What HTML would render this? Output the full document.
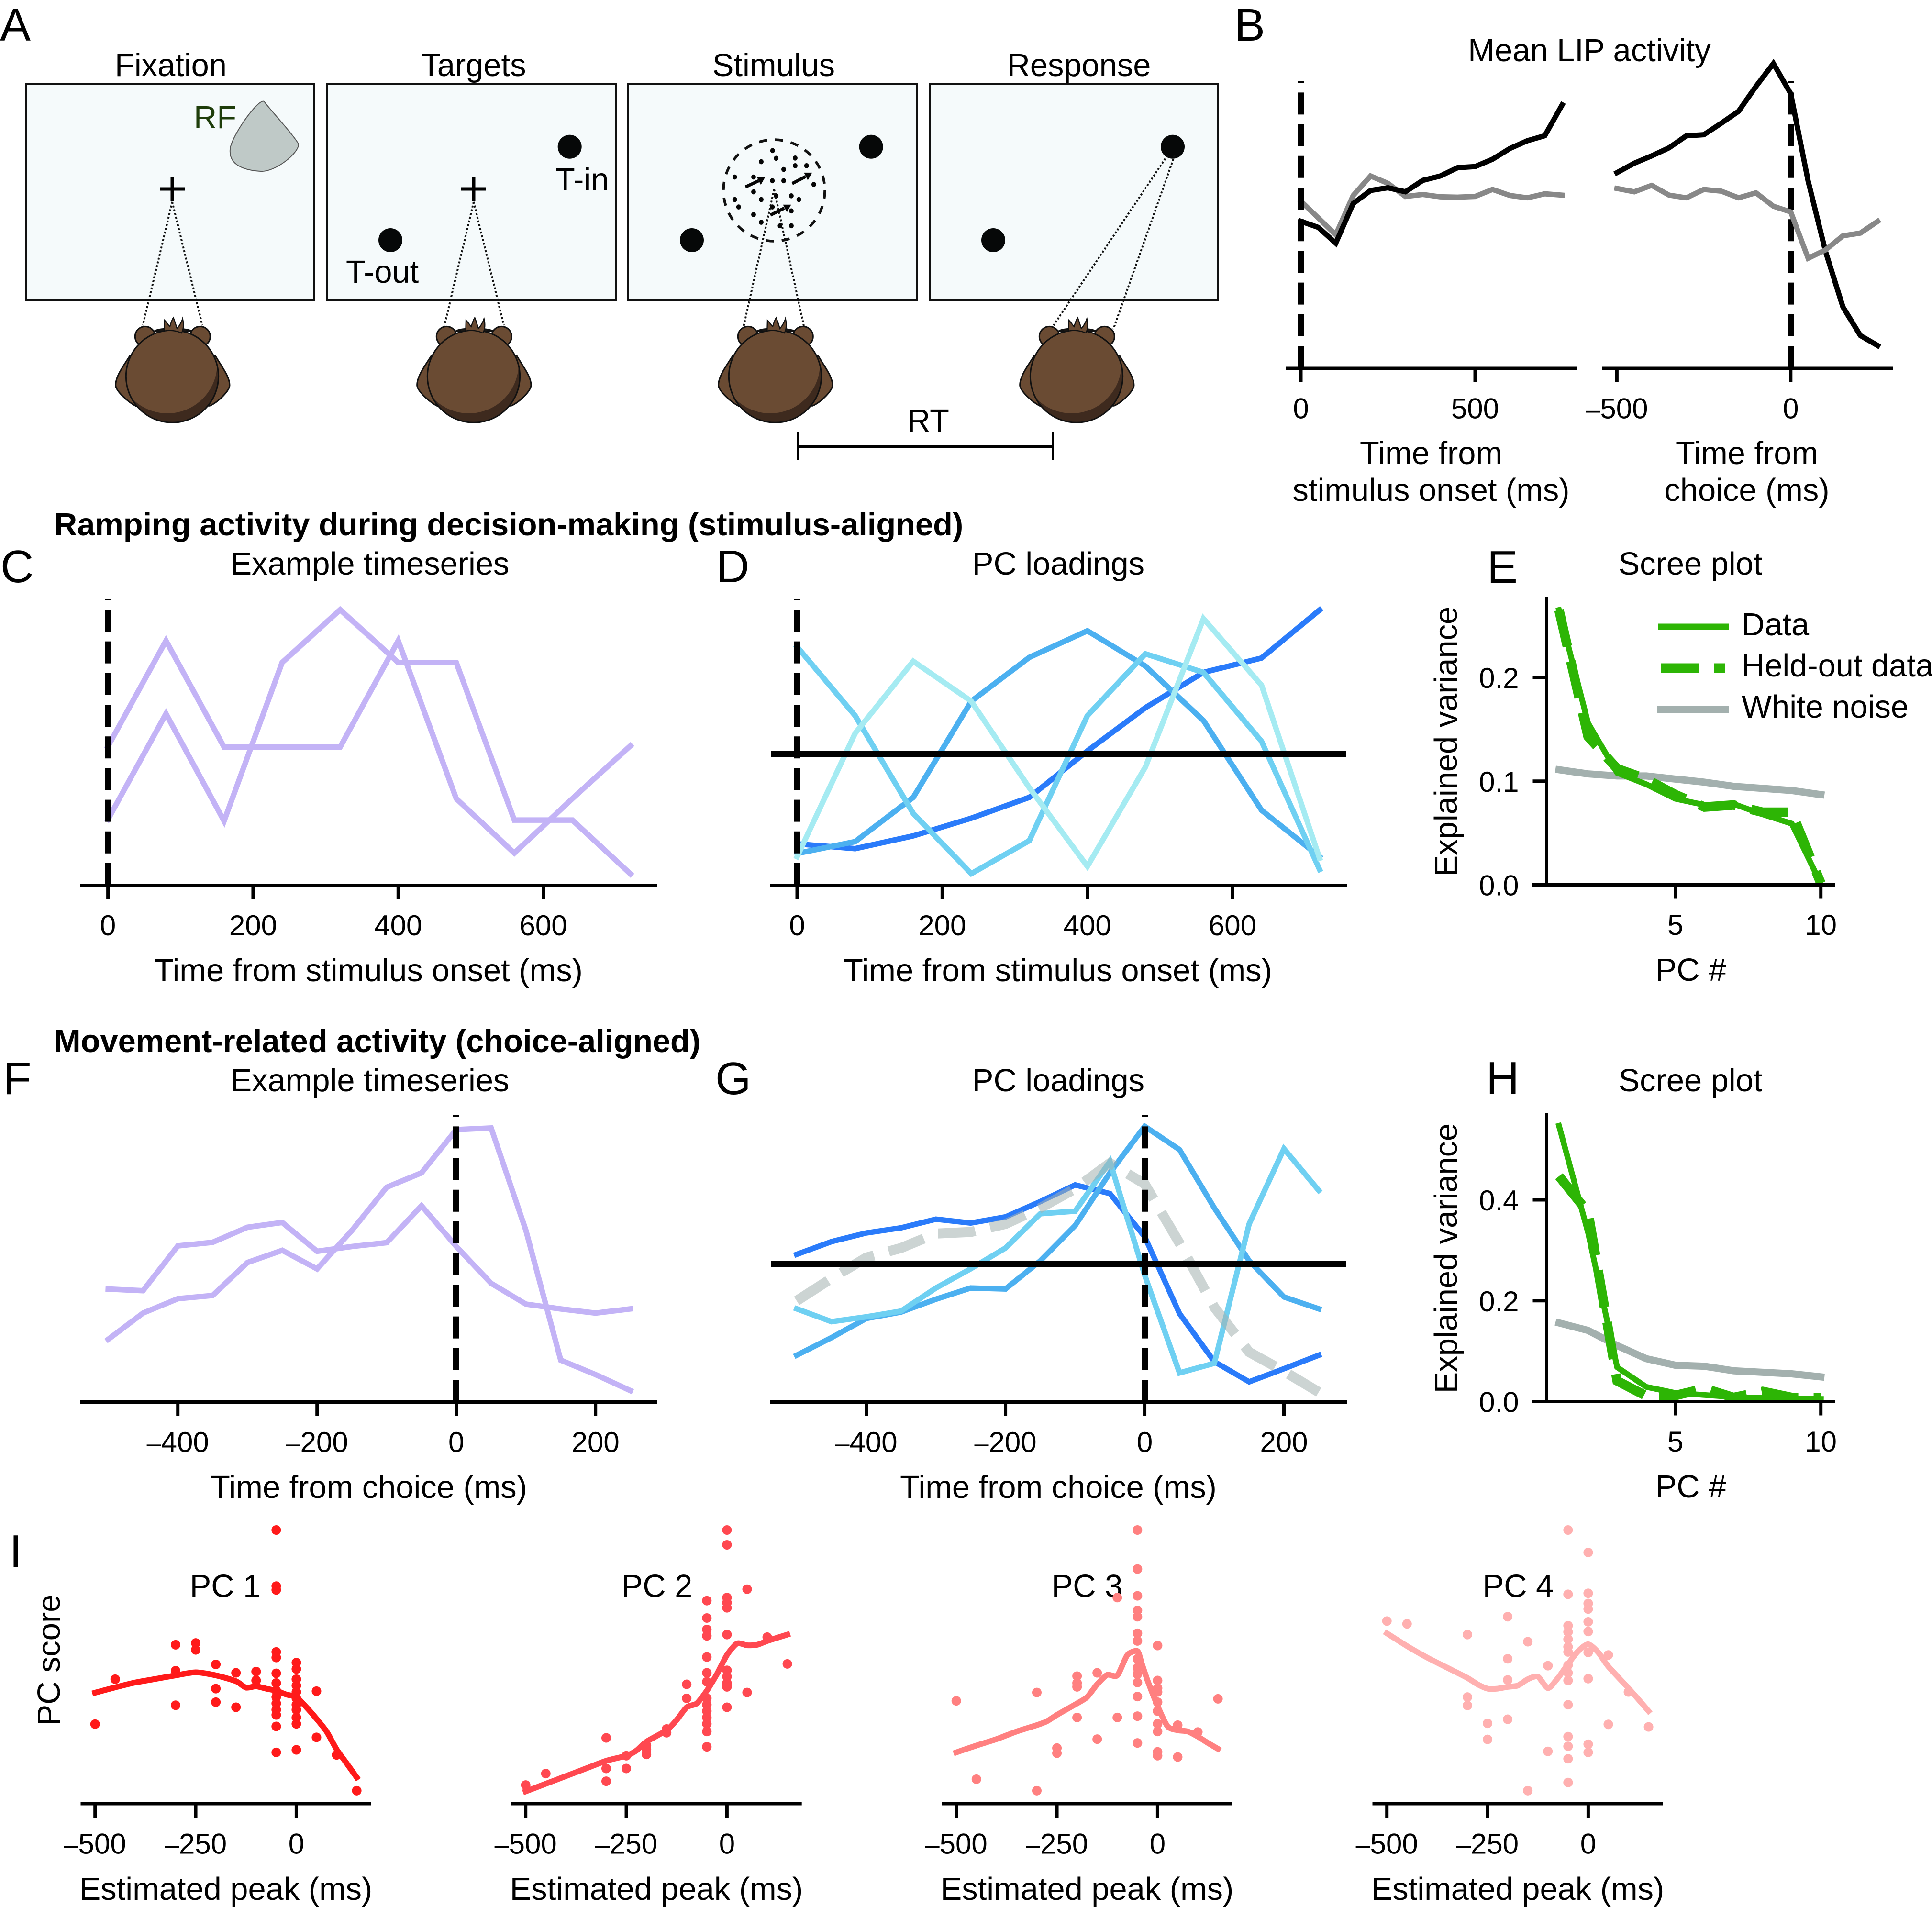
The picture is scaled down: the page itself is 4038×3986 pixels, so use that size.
<!DOCTYPE html>
<html lang="en">
<head>
<meta charset="utf-8">
<title>LIP activity figure</title>
<style>
html,body{margin:0;padding:0;background:#fff}
svg{display:block}
text{font-family:"Liberation Sans",Arial,sans-serif;font-size:66.8px;fill:#000}
.bold{font-weight:bold}
.panel{font-size:96px}
.mid{text-anchor:middle}
.tick{font-size:60px}
</style>
</head>
<body>
<svg id="figure" xmlns="http://www.w3.org/2000/svg" width="4038" height="3986" viewBox="0 0 4038 3986">
<rect width="4038" height="3986" fill="#fff"/>
<defs>
  <clipPath id="headclip"><circle cx="480" cy="440" r="290"/></clipPath>
  <g id="monkey">
    <path d="M215,310 C170,380 125,440 125,495 C125,530 200,600 255,628 L715,625 C770,600 840,530 840,495 C840,440 790,380 750,310 Z" fill="#6a4b33" stroke="#111" stroke-width="9"/>
    <path d="M370,155 C400,135 560,135 600,155 Z" fill="#6a4b33" stroke="#111" stroke-width="9"/>
    <circle cx="310" cy="190" r="63" fill="#6a4b33" stroke="#111" stroke-width="9"/>
    <circle cx="655" cy="190" r="63" fill="#6a4b33" stroke="#111" stroke-width="9"/>
    <circle cx="480" cy="440" r="290" fill="#3e2a1e"/>
    <circle cx="450" cy="360" r="312" fill="#6a4b33" clip-path="url(#headclip)"/>
    <circle cx="480" cy="440" r="290" fill="none" stroke="#111" stroke-width="9"/>
    <path d="M430,155 L432,88 C445,100 460,125 465,128 C470,110 478,85 487,72 C495,90 505,125 510,140 C525,125 540,95 545,78 C553,110 552,145 538,168 C500,150 460,150 430,155 Z" fill="#6a4b33" stroke="#111" stroke-width="7"/>
  </g>
</defs>

<g>
  <text class="panel" x="0" y="85">A</text>
  <text class="mid" x="357" y="159">Fixation</text>
  <text class="mid" x="990" y="159">Targets</text>
  <text class="mid" x="1617" y="159">Stimulus</text>
  <text class="mid" x="2255" y="159">Response</text>
  <rect x="54" y="176" width="603" height="452" fill="#f5fafb" stroke="#111" stroke-width="4"/>
  <rect x="684" y="176" width="603" height="452" fill="#f5fafb" stroke="#111" stroke-width="4"/>
  <rect x="1313" y="176" width="603" height="452" fill="#f5fafb" stroke="#111" stroke-width="4"/>
  <rect x="1943" y="176" width="603" height="452" fill="#f5fafb" stroke="#111" stroke-width="4"/>
  <path d="M552,212 C565,230 612,280 624,301 C625,320 575,360 545,358 C510,356 478,345 481,312 C483,285 540,205 552,212 Z" fill="#bfc9c7" stroke="#555" stroke-width="2"/>
  <text x="405" y="268" style="fill:#1e3d0a">RF</text>
  <path d="M334,395H386M360,370V420" stroke="#000" stroke-width="7" fill="none"/>
  <path d="M964,395H1016M990,370V420" stroke="#000" stroke-width="7" fill="none"/>
  <circle cx="1190.7" cy="306.8" r="25" fill="#060808"/>
  <circle cx="816" cy="502" r="25" fill="#060808"/>
  <text x="1161" y="398">T-in</text>
  <text x="723" y="591">T-out</text>
  <circle cx="1820.7" cy="306.8" r="25" fill="#060808"/>
  <circle cx="1446" cy="502" r="25" fill="#060808"/>
  <circle cx="2451" cy="306.8" r="25" fill="#060808"/>
  <circle cx="2076" cy="502" r="25" fill="#060808"/>
  <circle cx="1618" cy="398" r="106" fill="none" stroke="#111" stroke-width="5.5" stroke-dasharray="17 16.4"/>
  <g transform="translate(1300,150) scale(.4464,.4847)" fill="#050505">
    <circle cx="705" cy="340" r="11"/><circle cx="722" cy="373" r="11"/><circle cx="652" cy="388" r="11"/><circle cx="811" cy="372" r="11"/><circle cx="811" cy="405" r="11"/><circle cx="864" cy="405" r="11"/><circle cx="757" cy="421" r="11"/><circle cx="528" cy="454" r="11"/><circle cx="616" cy="454" r="11"/><circle cx="704" cy="470" r="11"/><circle cx="757" cy="470" r="11"/><circle cx="898" cy="486" r="11"/><circle cx="616" cy="518" r="11"/><circle cx="722" cy="535" r="11"/><circle cx="793" cy="535" r="11"/><circle cx="528" cy="551" r="11"/><circle cx="652" cy="551" r="11"/><circle cx="828" cy="551" r="11"/><circle cx="546" cy="583" r="11"/><circle cx="704" cy="583" r="11"/><circle cx="793" cy="600" r="11"/><circle cx="616" cy="616" r="11"/><circle cx="652" cy="649" r="11"/><circle cx="740" cy="664" r="11"/><circle cx="793" cy="664" r="11"/>
    <path d="M578,497L640,470M797,482L860,452M695,618L760,588" stroke="#050505" stroke-width="14" fill="none"/>
    <path d="M670,455L632,455L650,488ZM890,435L852,435L870,468ZM792,573L754,573L772,606Z"/>
  </g>
  <g stroke="#111" stroke-width="4" stroke-dasharray="4 4" fill="none">
    <path d="M360,422L298.5,680M360,422L423,680"/>
    <path d="M990,422L929,680M990,422L1053,680"/>
    <path d="M1618,396L1554.5,681M1618,396L1680,681"/>
    <path d="M2440,325L2202,680M2455,325L2327,688"/>
  </g>
  <use href="#monkey" transform="translate(200,640) scale(.3333)"/>
  <use href="#monkey" transform="translate(830,640) scale(.3333)"/>
  <use href="#monkey" transform="translate(1460,640) scale(.3333)"/>
  <use href="#monkey" transform="translate(2090,640) scale(.3333)"/>
  <text class="mid" x="1940" y="902">RT</text>
  <path d="M1667,933H2201" stroke="#000" stroke-width="6" fill="none"/>
  <path d="M1667,904V961M2201,904V961" stroke="#000" stroke-width="4" fill="none"/>
</g>

<g>
  <text class="panel" x="2580" y="85">B</text>
  <text class="mid" x="3322" y="128">Mean LIP activity</text>
  <text class="mid" x="2991" y="970">Time from</text>
  <text class="mid" x="2991" y="1047">stimulus onset (ms)</text>
  <text class="mid" x="3651" y="970">Time from</text>
  <text class="mid" x="3651" y="1047">choice (ms)</text>

  <text class="bold" x="113" y="1119">Ramping activity during decision-making (stimulus-aligned)</text>
  <text class="panel" x="1" y="1217">C</text>
  <text class="panel" x="1497" y="1217">D</text>
  <text class="panel" x="3108" y="1218">E</text>
  <text class="mid" x="773" y="1201">Example timeseries</text>
  <text class="mid" x="2212" y="1201">PC loadings</text>
  <text class="mid" x="3533" y="1201">Scree plot</text>
  <text class="mid" x="770" y="2051">Time from stimulus onset (ms)</text>
  <text class="mid" x="2211" y="2051">Time from stimulus onset (ms)</text>
  <text class="mid" x="3534" y="2050">PC #</text>
  <text class="mid" transform="translate(3045,1550) rotate(-90)">Explained variance</text>
  <text x="3640" y="1328">Data</text>
  <text x="3640" y="1414">Held-out data</text>
  <text x="3640" y="1500">White noise</text>

  <text class="bold" x="113" y="2199">Movement-related activity (choice-aligned)</text>
  <text class="panel" x="7" y="2287">F</text>
  <text class="panel" x="1495" y="2287">G</text>
  <text class="panel" x="3106" y="2286">H</text>
  <text class="mid" x="773" y="2281">Example timeseries</text>
  <text class="mid" x="2212" y="2281">PC loadings</text>
  <text class="mid" x="3533" y="2281">Scree plot</text>
  <text class="mid" x="771" y="3131">Time from choice (ms)</text>
  <text class="mid" x="2212" y="3131">Time from choice (ms)</text>
  <text class="mid" x="3534" y="3130">PC #</text>
  <text class="mid" transform="translate(3045,2630) rotate(-90)">Explained variance</text>

  <text class="panel mid" x="33" y="3275">I</text>
  <text class="mid" transform="translate(125,3470) rotate(-90)">PC score</text>
  <text class="mid" x="471" y="3338">PC 1</text>
  <text class="mid" x="1373" y="3338">PC 2</text>
  <text class="mid" x="2272" y="3338">PC 3</text>
  <text class="mid" x="3173" y="3338">PC 4</text>
  <text class="mid" x="472" y="3971">Estimated peak (ms)</text>
  <text class="mid" x="1372" y="3971">Estimated peak (ms)</text>
  <text class="mid" x="2272" y="3971">Estimated peak (ms)</text>
  <text class="mid" x="3172" y="3971">Estimated peak (ms)</text>
</g>
</svg>
<script>
// ---------- shared categories ----------
const stimulusBins50 = [0,50,100,150,200,250,300,350,400,450,500,550,600,650,700,750];
const choiceBins50 = [-500,-450,-400,-350,-300,-250,-200,-150,-100,-50,0,50,100,150,200,250];
const stimulusBins80 = [0,80,160,240,320,400,480,560,640,720];
const pcNumbers = [1,2,3,4,5,6,7,8,9,10];

// ---------- panel B values ----------
const bStimPreferred = [438,420,373,491,530,538,526,560,573,598,601,623,655,678,693,785];
const bStimNull = [498,448,398,515,573,551,512,518,511,510,512,533,515,508,520,516];
const bChoicePreferred = [583,611,633,657,693,696,730,766,840,908,818,558,348,183,98,68];
const bChoiceNull = [536,526,545,516,508,533,528,508,523,483,466,328,353,395,403,438];

// ---------- panel C values ----------
const cExampleA = [205,535,200,695,860,695,695,203,203,35];
const cExampleB = [433,763,431,431,431,763,270,100,270,435];

// ---------- panel D values ----------
const dLoadingPc1 = [-280,-295,-255,-200,-135,10,145,255,300,450];
const dLoadingPc2 = [-310,-273,-135,165,302,385,275,105,-175,-320];
const dLoadingPc3 = [335,120,-185,-373,-270,120,313,255,40,-360];
const dLoadingPc4 = [-320,65,290,165,-105,-350,-40,423,215,-325];

// ---------- panel E values ----------
const eData = [.265,.156,.108,.097,.083,.077,.078,.068,.059,.001];
const eHeldOut = [.265,.143,.112,.102,.087,.075,.077,.07,.07,.0015];
const eWhiteNoise = [.111,.107,.105,.105,.102,.099,.095,.093,.091,.087];

// ---------- panel F values ----------
const fExampleA = [352,347,487,498,545,560,470,485,497,612,485,370,305,290,277,290];
const fExampleB = [195,277,322,332,435,473,415,535,670,715,850,855,535,130,85,35];

// ---------- panel G values ----------
const gLoadingPc1 = [30,70,97,113,140,128,147,195,247,220,85,-155,-305,-368,-327,-285];
const gLoadingPc2 = [-285,-230,-170,-150,-110,-75,-78,10,120,285,430,357,175,10,-103,-140];
const gLoadingPc3 = [-140,-180,-165,-147,-75,-15,50,157,165,320,-35,-340,-310,125,360,230];
const gRampTemplate = [-115,-45,20,50,95,100,125,175,235,315,250,65,-135,-275,-335,-400];

// ---------- panel H values ----------
const hData = [.547,.335,.068,.029,.017,.013,.009,.007,.006,.005];
const hHeldOut = [.447,.375,.041,.011,.012,.026,.008,.02,.008,.008];
const hWhiteNoise = [.156,.141,.111,.085,.072,.07,.061,.058,.055,.049];

// ---------- panel I values ----------
const pc1PeakTimes = [-500,-450,-300,-300,-300,-250,-250,-200,-200,-200,-150,-150,-100,-100,-50,-50,-50,-50,-50,-50,-50,-50,-50,-50,-50,-50,-50,-50,0,0,0,0,0,0,0,0,0,0,0,50,50,100,150];
const pc1Scores = [312,488,623,521,386,630,603,546,451,398,513,378,518,483,1073,853,838,595,573,511,473,443,418,393,368,348,303,201,553,528,488,463,438,413,388,368,338,313,211,441,260,191,51];
const pc1CurveTimes = [-500,-450,-400,-350,-300,-250,-200,-150,-125,-100,-75,-50,-25,0,25,50,75,100,125,150];
const pc1CurveScores = [435,456,475,489,503,515,503,480,455,460,451,443,428,418,378,333,283,213,158,103];

const pc2PeakTimes = [-500,-450,-300,-300,-300,-250,-250,-200,-200,-200,-150,-150,-100,-100,-50,-50,-50,-50,-50,-50,-50,-50,-50,-50,-50,-50,-50,-50,0,0,0,0,0,0,0,0,0,0,0,50,50,100,150];
const pc2Scores = [73,118,258,138,88,188,138,228,213,193,293,278,468,413,796,728,683,658,575,513,478,413,388,363,338,313,283,223,1073,1015,808,788,768,663,523,498,473,458,378,841,436,653,548];
const pc2CurveTimes = [-500,-450,-400,-350,-300,-250,-225,-200,-150,-125,-100,-75,-50,-25,0,25,50,75,100,150];
const pc2CurveScores = [48,78,108,138,168,188,208,243,288,328,378,393,443,508,583,628,621,623,638,663];

const pc3PeakTimes = [-500,-450,-300,-300,-250,-250,-200,-200,-200,-200,-150,-150,-100,-100,-50,-50,-50,-50,-50,-50,-50,-50,-50,-50,-50,-50,-50,-50,0,0,0,0,0,0,0,0,0,0,50,50,100,150];
const pc3Scores = [403,96,436,51,218,198,500,473,458,338,513,253,808,338,1073,920,815,758,733,668,638,568,533,508,475,420,343,238,620,483,453,438,398,363,313,283,203,188,183,308,281,411];
const pc3CurveTimes = [-500,-450,-400,-350,-300,-275,-250,-200,-175,-150,-125,-100,-75,-50,-40,-25,0,25,50,75,100,125,150];
const pc3CurveScores = [201,228,253,283,308,323,348,393,418,468,505,503,583,598,553,483,383,303,288,283,263,238,215];

const pc4PeakTimes = [-500,-450,-300,-300,-300,-250,-250,-200,-200,-200,-200,-150,-150,-100,-100,-50,-50,-50,-50,-50,-50,-50,-50,-50,-50,-50,-50,-50,-50,-50,0,0,0,0,0,0,0,0,0,0,50,50,100,150];
const pc4Scores = [716,705,663,418,385,315,252,733,568,485,331,635,51,541,205,1073,821,698,673,645,615,595,543,513,483,388,263,225,176,83,985,825,785,763,713,675,593,490,233,201,583,311,438,301];
const pc4CurveTimes = [-500,-450,-400,-350,-300,-275,-250,-225,-200,-175,-150,-125,-100,-75,-50,-25,0,25,50,100,150];
const pc4CurveScores = [668,618,573,533,493,468,451,451,458,463,488,498,453,493,548,598,625,593,538,453,363];

// ---------- tick labels ----------
const bStimTicks = [0,500];
const bChoiceTicks = [-500,0];
const stimulusTicks = [0,200,400,600];
const choiceTicks = [-400,-200,0,200];
const pcTicks = [5,10];
const eVarianceTicks = [0,.1,.2];
const hVarianceTicks = [0,.2,.4];
const peakTicks = [-500,-250,0];

// ---------- drawing helpers ----------
const NS = 'http://www.w3.org/2000/svg';
const figure = document.getElementById('figure');
function shape(tag, attrs, parent) {
  const el = document.createElementNS(NS, tag);
  for (const k in attrs) el.setAttribute(k, attrs[k]);
  (parent || figure).appendChild(el);
  return el;
}
function linear(d0, p0, d1, p1) {
  return function (v) { return p0 + (v - d0) * (p1 - p0) / (d1 - d0); };
}
function fmtVar(v) {
  return v.toFixed(1);
}
function linePoints(xs, ys, xScale, yScale) {
  return xs.map(function (x, i) { return xScale(x).toFixed(1) + ',' + yScale(ys[i]).toFixed(1); }).join(' ');
}
function smoothPath(xs, ys, xScale, yScale) {
  const pts = xs.map(function (x, i) { return [xScale(x), yScale(ys[i])]; });
  let d = 'M' + pts[0][0].toFixed(1) + ',' + pts[0][1].toFixed(1);
  for (let i = 0; i < pts.length - 1; i++) {
    const p0 = pts[Math.max(i - 1, 0)], p1 = pts[i], p2 = pts[i + 1], p3 = pts[Math.min(i + 2, pts.length - 1)];
    const t = 0.12;
    d += 'C' + (p1[0] + (p2[0] - p0[0]) * t).toFixed(1) + ',' + (p1[1] + (p2[1] - p0[1]) * t).toFixed(1) + ' ' +
      (p2[0] - (p3[0] - p1[0]) * t).toFixed(1) + ',' + (p2[1] - (p3[1] - p1[1]) * t).toFixed(1) + ' ' +
      p2[0].toFixed(1) + ',' + p2[1].toFixed(1);
  }
  return d;
}
function drawLine(g, xs, ys, xScale, yScale, color, width, name, extra) {
  const attrs = { points: linePoints(xs, ys, xScale, yScale), fill: 'none', stroke: color, 'stroke-width': width, 'stroke-linejoin': 'miter', 'stroke-miterlimit': 10, 'stroke-linecap': 'square' };
  if (extra) for (const k in extra) attrs[k] = extra[k];
  const line = shape('polyline', attrs, g);
  
  
  return line;
}
function drawTickLabel(g, value, x, y) {
  const label = shape('text', { x: x, y: y, class: 'mid tick' }, g);
  if (value < 0) {
    const dash = shape('tspan', { 'font-size': 54, style: 'font-size:54px' }, label);
    dash.textContent = '\u2013';
    const digits = shape('tspan', {}, label);
    digits.textContent = String(Math.abs(value));
  } else {
    label.textContent = String(value);
  }
  
  
}
function drawXAxis(g, scale, ticks, x0, x1, y) {
  const axis = shape('line', { x1: x0, x2: x1, y1: y, y2: y, stroke: '#000', 'stroke-width': 7 }, g);
  
  
  ticks.forEach(function (t) {
    const tick = shape('line', { x1: scale(t), x2: scale(t), y1: y, y2: y + 29, stroke: '#000', 'stroke-width': 7 }, g);
    
    
    drawTickLabel(g, t, scale(t), y + 104.5);
  });
}
function drawYAxis(g, scale, ticks, x, y0, y1) {
  const axis = shape('line', { x1: x, x2: x, y1: y0, y2: y1, stroke: '#000', 'stroke-width': 7 }, g);
  
  
  ticks.forEach(function (t) {
    const tick = shape('line', { x1: x - 29, x2: x, y1: scale(t), y2: scale(t), stroke: '#000', 'stroke-width': 7 }, g);
    
    
    const label = shape('text', { x: x - 58, y: scale(t) + 22, 'text-anchor': 'end', class: 'tick' }, g);
    label.textContent = fmtVar(t);
    
    
  });
}
function drawEventLine(g, x, yTop, yBottom) {
  const ev = shape('line', { x1: x, x2: x, y1: yTop, y2: yBottom, stroke: '#000', 'stroke-width': 13, 'stroke-dasharray': '46 20.2', 'stroke-dashoffset': 42.8 }, g);
  
  
}
function drawZeroLine(g, x0, x1, y) {
  const zero = shape('line', { x1: x0, x2: x1, y1: y, y2: y, stroke: '#000', 'stroke-width': 12.7 }, g);
  
  
}
function panel(name) {
  const g = shape('g', {});
  
  
  return g;
}

const PURPLE = '#c3b3f6';
const BLUE1 = '#2a7bfa';
const BLUE2 = '#4cb0f0';
const BLUE3 = '#6fd0f2';
const BLUE4 = '#a5ebf2';
const GREEN = '#2db505';
const NOISE = '#a3b0ae';
const DASH = '78 32';
const DASHED = { 'stroke-dasharray': DASH, 'stroke-linecap': 'butt' };

// ---------- panel B ----------
const yB = linear(0, 770, 855, 170);
const bLeft = panel('panel-b-stimulus-aligned');
const xBLeft = linear(0, 2719, 500, 3083);
drawLine(bLeft, stimulusBins50, bStimNull, xBLeft, yB, '#888888', 11, 'mean-activity-null-stimulus');
drawLine(bLeft, stimulusBins50, bStimPreferred, xBLeft, yB, '#000', 11, 'mean-activity-preferred-stimulus');
drawEventLine(bLeft, 2719, 170, 770);
drawXAxis(bLeft, xBLeft, bStimTicks, 2688, 3295, 770);
const bRight = panel('panel-b-choice-aligned');
const xBRight = linear(-500, 3379.4, 0, 3742.8);
drawLine(bRight, choiceBins50, bChoicePreferred, xBRight, yB, '#000', 11, 'mean-activity-preferred-choice');
drawEventLine(bRight, 3742.8, 170, 770);
drawLine(bRight, choiceBins50, bChoiceNull, xBRight, yB, '#888888', 11, 'mean-activity-null-choice');
drawXAxis(bRight, xBRight, bChoiceTicks, 3349, 3956, 770);

// ---------- panel C ----------
const pC = panel('panel-c-example-timeseries');
const xC = linear(0, 225.6, 600, 1135.6);
const yC = linear(0, 1850, 895, 1251);
drawLine(pC, stimulusBins80, cExampleA, xC, yC, PURPLE, 11.5, 'example-trace-1');
drawLine(pC, stimulusBins80, cExampleB, xC, yC, PURPLE, 11.5, 'example-trace-2');
drawEventLine(pC, 225.6, 1251, 1850);
drawXAxis(pC, xC, stimulusTicks, 168, 1374, 1850.5);

// ---------- panel D ----------
const pD = panel('panel-d-pc-loadings');
const xD = linear(0, 1666, 600, 2576);
const yD = linear(0, 1576.3, 895, 977);
drawLine(pD, stimulusBins80, dLoadingPc1, xD, yD, BLUE1, 11.5, 'loading-pc1');
drawLine(pD, stimulusBins80, dLoadingPc2, xD, yD, BLUE2, 11.5, 'loading-pc2');
drawLine(pD, stimulusBins80, dLoadingPc3, xD, yD, BLUE3, 11.5, 'loading-pc3');
drawLine(pD, stimulusBins80, dLoadingPc4, xD, yD, BLUE4, 11.5, 'loading-pc4');
drawEventLine(pD, 1666, 1251, 1850);
drawZeroLine(pD, 1612, 2813, 1576.3);
drawXAxis(pD, xD, stimulusTicks, 1609, 2815, 1850.5);

// ---------- panel E ----------
const pE = panel('panel-e-scree');
const xScree = linear(1, 3258.4, 10, 3805.7);
const yE = linear(0, 1849.5, .2, 1416);
drawLine(pE, pcNumbers, eWhiteNoise, xScree, yE, NOISE, 15, 'white-noise-line');
drawLine(pE, pcNumbers, eData, xScree, yE, GREEN, 12, 'data-line');
drawLine(pE, pcNumbers, eHeldOut, xScree, yE, GREEN, 20, 'held-out-line', DASHED);
drawXAxis(pE, xScree, pcTicks, 3203, 3835, 1849.5);
drawYAxis(pE, yE, eVarianceTicks, 3232.5, 1247, 1849.5);
const legendData = shape('line', { x1: 3466, x2: 3613, y1: 1310, y2: 1310, stroke: GREEN, 'stroke-width': 13 }, pE);


const legendHeld = shape('line', { x1: 3472, x2: 3606, y1: 1396.5, y2: 1396.5, stroke: GREEN, 'stroke-width': 20, 'stroke-dasharray': DASH }, pE);


const legendNoise = shape('line', { x1: 3464, x2: 3614, y1: 1483, y2: 1483, stroke: NOISE, 'stroke-width': 15 }, pE);



// ---------- panel F ----------
const pF = panel('panel-f-example-timeseries');
const xF = linear(-400, 371.7, 200, 1244.7);
const yF = linear(0, 2930, 895, 2331);
drawLine(pF, choiceBins50, fExampleA, xF, yF, PURPLE, 11.5, 'example-trace-1');
drawLine(pF, choiceBins50, fExampleB, xF, yF, PURPLE, 11.5, 'example-trace-2');
drawEventLine(pF, 952.5, 2331, 2930);
drawXAxis(pF, xF, choiceTicks, 168, 1374, 2930.5);

// ---------- panel G ----------
const pG = panel('panel-g-pc-loadings');
const xG = linear(-400, 1810.6, 200, 2683.5);
const yG = linear(0, 2642, 895, 2043);
drawLine(pG, choiceBins50, gLoadingPc1, xG, yG, BLUE1, 11.5, 'loading-pc1');
drawLine(pG, choiceBins50, gLoadingPc2, xG, yG, BLUE2, 11.5, 'loading-pc2');
drawLine(pG, choiceBins50, gLoadingPc3, xG, yG, BLUE3, 11.5, 'loading-pc3');
drawLine(pG, choiceBins50, gRampTemplate, xG, yG, '#a3b0ae', 21, 'ramp-template-line', { 'stroke-dasharray': DASH, 'stroke-linecap': 'butt', 'stroke-opacity': .55 });
drawEventLine(pG, 2393, 2331, 2930);
drawZeroLine(pG, 1612, 2813, 2642);
drawXAxis(pG, xG, choiceTicks, 1609, 2815, 2930.5);

// ---------- panel H ----------
const pH = panel('panel-h-scree');
const yH = linear(0, 2929.5, .4, 2508);
drawLine(pH, pcNumbers, hWhiteNoise, xScree, yH, NOISE, 15, 'white-noise-line');
drawLine(pH, pcNumbers, hData, xScree, yH, GREEN, 12, 'data-line');
drawLine(pH, pcNumbers, hHeldOut, xScree, yH, GREEN, 20, 'held-out-line', DASHED);
drawXAxis(pH, xScree, pcTicks, 3203, 3835, 2929.5);
drawYAxis(pH, yH, hVarianceTicks, 3232.5, 2327, 2929.5);

// ---------- panel I ----------
const yScore = linear(0, 3770, 1876, 2770);
function drawScorePanel(name, offset, times, scores, curveTimes, curveScores, color) {
  const g = panel(name);
  const xPeak = linear(-500, 198.7 + offset, 0, 619.4 + offset);
  times.forEach(function (t, i) {
    const dot = shape('circle', { cx: xPeak(t), cy: yScore(scores[i]), r: 10, fill: color }, g);
    
    
  });
  const curve = shape('path', { d: smoothPath(curveTimes, curveScores, xPeak, yScore), fill: 'none', stroke: color, 'stroke-width': 12, 'stroke-linejoin': 'round', 'stroke-linecap': 'square' }, g);
  
  
  drawXAxis(g, xPeak, peakTicks, 168.5 + offset, 775.7 + offset, 3770);
}
drawScorePanel('panel-i-pc1', 0, pc1PeakTimes, pc1Scores, pc1CurveTimes, pc1CurveScores, '#ff1a1a');
drawScorePanel('panel-i-pc2', 900, pc2PeakTimes, pc2Scores, pc2CurveTimes, pc2CurveScores, '#ff4850');
drawScorePanel('panel-i-pc3', 1800, pc3PeakTimes, pc3Scores, pc3CurveTimes, pc3CurveScores, '#ff8080');
drawScorePanel('panel-i-pc4', 2700, pc4PeakTimes, pc4Scores, pc4CurveTimes, pc4CurveScores, '#ffb0b0');
</script>
</body>
</html>
